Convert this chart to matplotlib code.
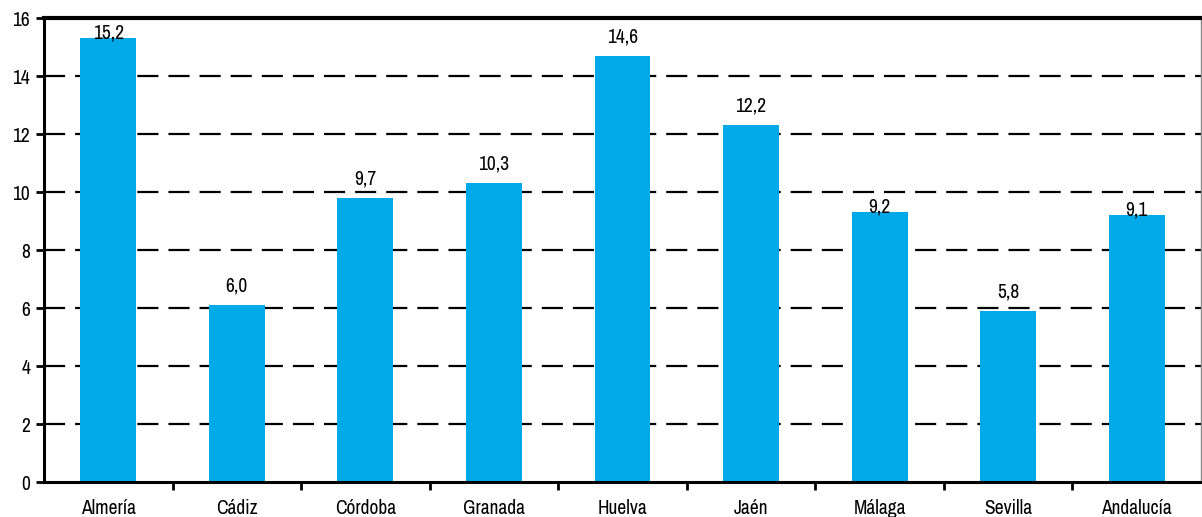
import matplotlib.pyplot as plt
from matplotlib import font_manager

provincias = ["Almería", "Cádiz", "Córdoba", "Granada", "Huelva", "Jaén", "Málaga", "Sevilla", "Andalucía"]
valores = [15.3, 6.1, 9.8, 10.3, 14.7, 12.3, 9.3, 5.9, 9.2]
etiquetas = ["15,2", "6,0", "9,7", "10,3", "14,6", "12,2", "9,2", "5,8", "9,1"]
yticks = [0, 2, 4, 6, 8, 10, 12, 14, 16]

# look for a condensed face, the original uses something like Arial Narrow
names = sorted({f.name for f in font_manager.fontManager.ttflist})
narrow = [n for n in names if "Narrow" in n or "Condensed" in n]
if narrow:
    fam = [narrow[0], "DejaVu Sans"]
    fs = 14
else:
    fam = ["Liberation Sans", "DejaVu Sans"]
    fs = 13
plt.rcParams["font.family"] = fam
plt.rcParams["font.size"] = fs

fig = plt.figure(figsize=(12.02, 5.17), dpi=100)
ax = fig.add_axes([44 / 1202, 35 / 517, 1157 / 1202, 464 / 517])

x = range(len(provincias))
ax.bar(x, valores, width=0.435, color="#00A9E8", zorder=2)
# some labels sit right on the bar top in the original
bajos = {0, 6, 8}
for i, (v, t) in enumerate(zip(valores, etiquetas)):
    off = 0.17 if i in bajos else 0.65
    ax.text(i, v + off, t, ha="center", va="center", fontsize=fs, zorder=3)

ax.set_xlim(-0.5, len(provincias) - 0.5)
ax.set_ylim(0, 16)
ax.set_yticks(yticks)
ax.set_yticklabels([str(t) for t in yticks])
ax.set_xticks(list(x))
ax.set_xticklabels(provincias)
ax.set_xticks([i + 0.5 for i in range(len(provincias) - 1)], minor=True)
ax.tick_params(axis="x", which="major", length=0, pad=12)
ax.tick_params(axis="x", which="minor", length=6, width=2, direction="out")
ax.tick_params(axis="y", length=6, width=2, direction="out", pad=4)

for y in yticks[1:-1]:
    ax.axhline(y, color="black", lw=1.6, dashes=(9.5, 4.5), zorder=1)

ax.spines["left"].set_linewidth(2.2)
ax.spines["bottom"].set_linewidth(2.2)
ax.spines["top"].set_linewidth(3)
ax.spines["right"].set_linewidth(1)
ax.spines["right"].set_color("#888888")

fig.savefig("out.png", dpi=100)
